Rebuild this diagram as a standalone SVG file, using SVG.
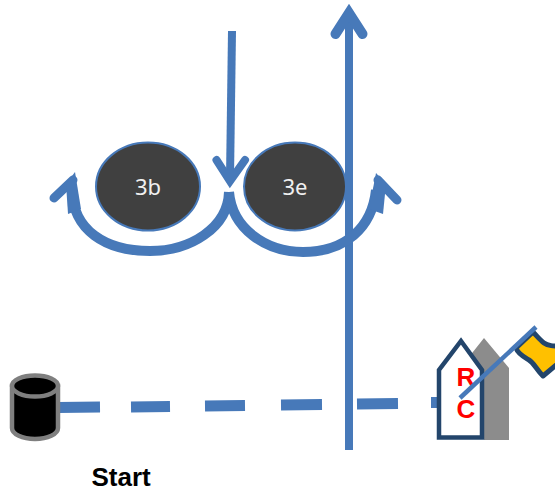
<svg xmlns="http://www.w3.org/2000/svg" width="555" height="492" viewBox="0 0 555 492">
<style>
.b{fill:none;stroke:#4779b9;stroke-linecap:round;stroke-linejoin:miter;stroke-miterlimit:10}
.h{fill:#4779b9;stroke:none}
.n{fill:#404040;stroke:#4779b9;stroke-width:2}
.t{font-family:"Noto Sans","Open Sans",sans-serif;font-size:22px;fill:#f0f0f0;text-anchor:middle}
.r{font-family:"Liberation Sans",Arial,sans-serif;font-size:26px;font-weight:bold;fill:#ff0000;text-anchor:middle}
</style>
<g id="node-3b"><ellipse class="n" cx="148" cy="186.500" rx="52" ry="44"/><text class="t" x="148" y="195">3b</text></g>
<g id="node-3e"><ellipse class="n" cx="295" cy="186.500" rx="51" ry="44"/><text class="t" x="295" y="195">3e</text></g>
<g id="connectors">
<path class="b" d="M58,407.500 L100,407 M131,407 L170,406.500 M205,406 L245,405.500 M281,405 L322,404.500 M357,404 L398,403.500 M431,402.500 L440,402.500" style="stroke-width:11;stroke-linecap:butt"/>
<path class="b" d="M349,450 V20" style="stroke-width:8;stroke-linecap:butt"/>
<path class="b" d="M335.500,34 L349,13 L362.500,34" style="stroke-width:10"/>
<path class="b" d="M232,31 L230,178" style="stroke-width:8;stroke-linecap:butt"/>
<path class="b" d="M216.500,160 L230,181 L245,160" style="stroke-width:8"/>
<path class="b" d="M229,192 C228,228 190,251 150,251 C105,251 73,230 72,190" style="stroke-width:10;stroke-linecap:butt"/>
<path class="b" d="M54,198 L73,180" style="stroke-width:9"/>
<path class="h" d="M75,172 L81,209 L68,214 L66,184 Z"/>
<path class="b" d="M229,192 C232,228 265,252 303,252 C345,252 372,228 376,190" style="stroke-width:10;stroke-linecap:butt"/>
<path class="b" d="M397,200 L378,180" style="stroke-width:9"/>
<path class="h" d="M376,173 L369,209 L383,214 L386,184 Z"/>
</g>
<g id="node-start">
<path d="M12,386 V428 A23,11 0 0 0 58,428 V386 Z" fill="#000" stroke="#7f7f7f" stroke-width="4.500"/>
<ellipse cx="35" cy="386" rx="23" ry="10.500" fill="#000" stroke="#7f7f7f" stroke-width="4.500"/>
<text x="91.500" y="485.500" font-family="'Liberation Sans',Arial,sans-serif" font-size="26" font-weight="bold" fill="#000">Start</text>
</g>
<g id="node-rc">
<path d="M484,338 L509,368 V440 H484 Z M484,338 L465,362 L484,400 Z" fill="#8c8c8c"/>
<path d="M461,341 L482,370 V437.500 H439 V370 Z" fill="#fff" stroke="#23456b" stroke-width="4.500"/>
<text class="r" x="466" y="386">R</text>
<text class="r" x="466" y="418">C</text>
<path d="M533,332 L516,348 C518,354 524,357 529,360 C534,363 536,369 543,376 L562,360 V346 C553,346 548,346 544,343 C540,340 537,336 533,332 Z" fill="#ffc000" stroke="#23456b" stroke-width="5" stroke-linejoin="round"/>
<path d="M460,398 L536,327" fill="none" stroke="#4779b9" stroke-width="4.500"/>
</g>
</svg>
